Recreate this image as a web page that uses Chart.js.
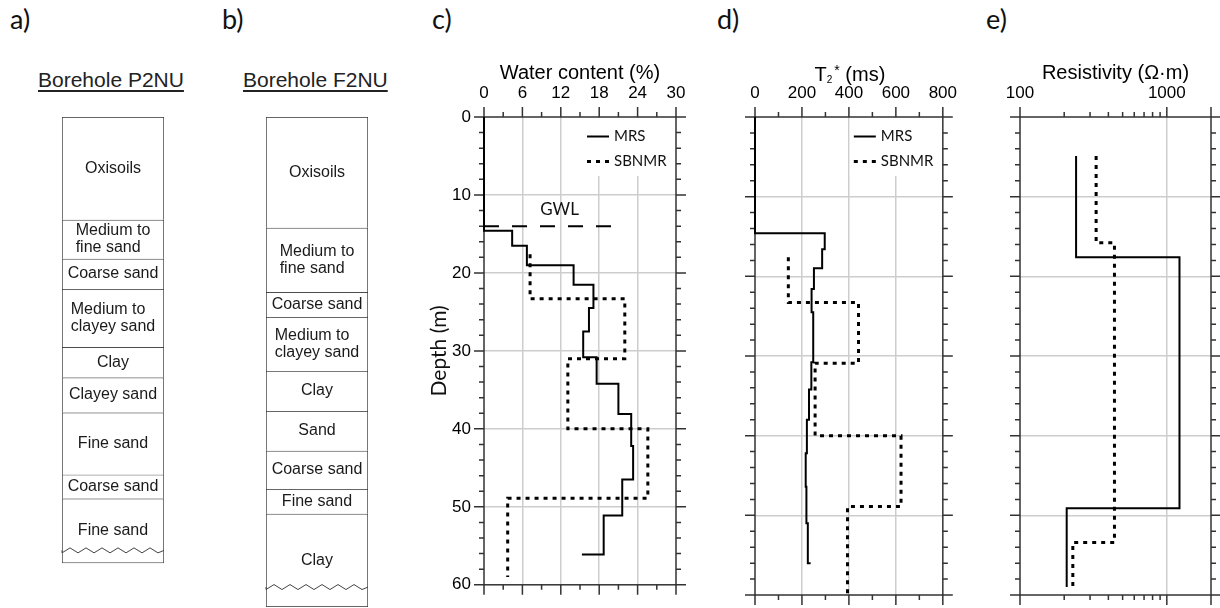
<!DOCTYPE html>
<html>
<head>
<meta charset="utf-8">
<script src="https://cdn.jsdelivr.net/npm/chart.js@4.4.0/dist/chart.umd.min.js"></script>
<style>
  body { margin: 0; background: #fff; width: 1220px; height: 608px; position: relative; overflow: hidden; }
  canvas { position: absolute; top: 0; }
  .tag { position: absolute; top: 5px; font: 27px Lato, sans-serif; line-height: 27px; color: #111; }
  .bh { position: absolute; top: 69px; font: 21px "Liberation Sans", Arial, sans-serif; line-height: 21px;
        text-decoration: underline; text-underline-offset: 3px; color: #222; white-space: nowrap; }
</style>
</head>
<body>
<div class="tag" style="left:10px">a)</div>
<div class="tag" style="left:222px">b)</div>
<div class="tag" style="left:432px">c)</div>
<div class="tag" style="left:717px">d)</div>
<div class="tag" style="left:986px">e)</div>
<div class="bh" style="left:38px">Borehole P2NU</div>
<div class="bh" style="left:243px">Borehole F2NU</div>

<canvas id="holeA" width="215" height="608" style="left:0"></canvas>
<canvas id="holeB" width="205" height="608" style="left:215px"></canvas>
<canvas id="wcChart" width="280" height="608" style="left:420px"></canvas>
<canvas id="t2Chart" width="270" height="608" style="left:700px"></canvas>
<canvas id="resChart" width="250" height="608" style="left:970px"></canvas>

<script>
// a) Borehole P2NU: layer names and layer boundaries (m)
const layersP2NU = ['Oxisoils', 'Medium to\nfine sand', 'Coarse sand', 'Medium to\nclayey sand', 'Clay',
                    'Clayey sand', 'Fine sand', 'Coarse sand', 'Fine sand'];
const depthsP2NU = [0, 12.9, 17.8, 21.6, 28.9, 32.7, 37.1, 44.9, 47.9, 56.0];
const wavyP2NU = 54.4;

// b) Borehole F2NU
const layersF2NU = ['Oxisoils', 'Medium to\nfine sand', 'Coarse sand', 'Medium to\nclayey sand', 'Clay',
                    'Sand', 'Coarse sand', 'Fine sand', 'Clay'];
const depthsF2NU = [0, 13.9, 22.0, 25.1, 31.9, 36.9, 41.9, 46.7, 49.8, 61.5];
const wavyF2NU = 59.0;

// shared depth axis
const depthTicks = [0, 2, 4, 6, 8, 10, 12, 14, 16, 18, 20, 22, 24, 26, 28, 30,
                    32, 34, 36, 38, 40, 42, 44, 46, 48, 50, 52, 54, 56, 58, 60];
const depthMajor = [0, 10, 20, 30, 40, 50, 60];

// c) Water content (%)
const wcTicks = [0, 3, 6, 9, 12, 15, 18, 21, 24, 27, 30];
const wcMajor = [0, 6, 12, 18, 24, 30];
const mrsWcDepth = [0, 14.6, 16.5, 19.0, 21.5, 24.5, 27.5, 30.8, 34.2, 38.1, 42.2, 46.5, 51.1, 56.1];
const mrsWc      = [0, 4.4, 6.7, 14.0, 17.1, 16.4, 15.5, 17.6, 21.0, 23.0, 23.3, 21.6, 18.7, 15.3];
const sbWcDepth  = [17.6, 23.3, 31.0, 40.0, 48.9, 59.0];
const sbWc       = [7.2, 22.0, 13.1, 25.6, 3.7, 3.7];
const gwlDepth = 14.0;
const gwlWc = [0, 20];

// d) T2* (ms)
const t2Ticks = [0, 100, 200, 300, 400, 500, 600, 700, 800];
const t2Major = [0, 200, 400, 600, 800];
const mrsT2Depth = [0, 14.6, 16.6, 19.0, 21.6, 24.5, 30.8, 34.2, 38.0, 42.2, 46.4, 51.0, 56.0];
const mrsT2      = [0, 297, 286, 251, 241, 248, 240, 230, 221, 216, 219, 225, 237];
const sbT2Depth  = [17.6, 23.3, 30.9, 40.0, 48.9, 60.0];
const sbT2       = [142, 441, 256, 622, 394, 394];

// e) Resistivity (ohm m)
const resLabels = [100, 1000];
const resTicks = [100, 200, 300, 400, 500, 600, 700, 800, 900, 1000, 2000];
const resMajor = [100, 1000, 2000];
const mrsResDepth = [4.9, 17.6, 49.1, 59.0];
const mrsRes      = [241, 1220, 208, 208];
const sbResDepth  = [4.9, 15.8, 53.4, 59.0];
const sbRes       = [330, 440, 229, 229];

const ARIAL = '"Liberation Sans", Arial, sans-serif';
const CALIBRI = 'Lato, "Open Sans", sans-serif';
const GRID = '#cdcdcd';
const PX_PER_M = 478 / 60;

Chart.defaults.font.family = ARIAL;
Chart.defaults.color = '#000';

// borehole layer names + zigzag at the bottom
const layerText = {
    id: 'layerText',
    afterDatasetsDraw(chart, args, o) {
        const {ctx, chartArea: a} = chart;
        const y = chart.scales.y;
        ctx.save();
        ctx.fillStyle = '#1a1a1a';
        ctx.font = '16px ' + ARIAL;
        ctx.textBaseline = 'middle';
        const cx = (a.left + a.right) / 2;
        o.names.forEach((name, i) => {
            const lines = name.split('\n');
            const cy = y.getPixelForValue((o.depths[i] + o.depths[i + 1]) / 2);
            const w = Math.max(...lines.map(l => ctx.measureText(l).width));
            lines.forEach((l, k) => {
                ctx.fillText(l, cx - w / 2, cy + (k - (lines.length - 1) / 2) * 17);
            });
        });
        // broken-off bottom of the log
        const wy = y.getPixelForValue(o.wavyDepth);
        ctx.strokeStyle = '#444';
        ctx.lineWidth = 1;
        ctx.beginPath();
        ctx.moveTo(a.left, wy);
        for (let x = a.left, k = 0; x <= a.right; x += 8, k++) {
            ctx.lineTo(x, wy + (k % 2 ? -2.5 : 2.5));
        }
        ctx.lineTo(a.right, wy);
        ctx.stroke();
        ctx.restore();
    }
};

function boreholeChart(id, names, depths, wavyDepth, padLeft, padRight) {
    const maxDepth = depths[depths.length - 1];
    return new Chart(document.getElementById(id), {
        type: 'bar',
        data: {
            labels: [''],
            datasets: names.map((name, i) => ({
                label: name,
                data: [[depths[i], depths[i + 1]]],
                backgroundColor: '#fff',
                borderColor: '#333',
                borderWidth: {top: 1, left: 1, right: 1, bottom: i === names.length - 1 ? 1 : 0},
                borderSkipped: false,
                grouped: false,
                barPercentage: 1,
                categoryPercentage: 1
            }))
        },
        options: {
            responsive: false,
            animation: false,
            devicePixelRatio: 1,
            events: [],
            layout: {
                autoPadding: false,
                padding: {left: padLeft, right: padRight, top: 117, bottom: 608 - 117 - PX_PER_M * maxDepth}
            },
            scales: {
                x: {display: false},
                y: {display: false, reverse: true, min: 0, max: maxDepth}
            },
            plugins: {
                legend: {display: false},
                tooltip: {enabled: false},
                layerText: {names: names, depths: depths, wavyDepth: wavyDepth}
            }
        },
        plugins: [layerText]
    });
}

// box frame with outward ticks on all four sides
const frame = {
    id: 'frame',
    beforeDatasetsDraw(chart, args, o) {
        const {ctx, chartArea: a} = chart;
        const x = chart.scales.x, y = chart.scales.y;
        ctx.save();
        ctx.strokeStyle = '#333';
        ctx.lineWidth = 1.5;
        ctx.beginPath();
        o.xTicks.forEach(v => {
            const p = x.getPixelForValue(v);
            const len = o.xMajor.includes(v) ? 10 : 5;
            ctx.moveTo(p, a.top); ctx.lineTo(p, a.top - len);
            ctx.moveTo(p, a.bottom); ctx.lineTo(p, a.bottom + len);
        });
        depthTicks.forEach(v => {
            const p = y.getPixelForValue(v);
            const len = depthMajor.includes(v) ? 10 : 5;
            ctx.moveTo(a.left, p); ctx.lineTo(a.left - len, p);
            ctx.moveTo(a.right, p); ctx.lineTo(a.right + len, p);
        });
        ctx.stroke();
        ctx.strokeRect(a.left, a.top, a.right - a.left, a.bottom - a.top);
        ctx.restore();
    }
};

// legend in a white box at the top right of the plot
const boxLegend = {
    id: 'boxLegend',
    beforeDatasetsDraw(chart, args, o) {
        if (!o.display) return;
        const {ctx, chartArea: a} = chart;
        ctx.save();
        ctx.fillStyle = '#fff';
        ctx.fillRect(a.right - 93, a.top + 1, 92, 58);
        chart.data.datasets.slice(0, 2).forEach((ds, i) => {
            const ry = a.top + 19.5 + i * 25;
            ctx.strokeStyle = '#000';
            ctx.lineWidth = ds.borderWidth;
            ctx.setLineDash(ds.borderDash || []);
            ctx.beginPath();
            ctx.moveTo(a.right - 89, ry);
            ctx.lineTo(a.right - 67, ry);
            ctx.stroke();
            ctx.setLineDash([]);
            ctx.fillStyle = '#111';
            ctx.font = '15px ' + CALIBRI;
            ctx.textBaseline = 'middle';
            ctx.fillText(ds.label, a.right - 62, ry);
        });
        ctx.restore();
    }
};

// free text placed in data coordinates
const notes = {
    id: 'notes',
    afterDatasetsDraw(chart, args, o) {
        if (!o.items) return;
        const {ctx} = chart;
        ctx.save();
        ctx.fillStyle = '#111';
        ctx.textAlign = 'center';
        ctx.textBaseline = 'middle';
        o.items.forEach(it => {
            ctx.font = it.font;
            ctx.fillText(it.text, chart.scales.x.getPixelForValue(it.x), chart.scales.y.getPixelForValue(it.y));
        });
        ctx.restore();
    }
};

// T2* axis title (subscript + superscript)
const t2Title = {
    id: 't2Title',
    afterDraw(chart, args, o) {
        if (!o.display) return;
        const {ctx, chartArea: a} = chart;
        const base = 81;
        ctx.save();
        ctx.fillStyle = '#000';
        ctx.textBaseline = 'alphabetic';
        ctx.font = '20px ' + ARIAL;
        const wT = ctx.measureText('T').width;
        const wR = ctx.measureText(' (ms)').width;
        ctx.font = '10px ' + ARIAL;
        const w2 = ctx.measureText('2').width;
        ctx.font = '14px ' + ARIAL;
        const wS = ctx.measureText('*').width;
        let x0 = (a.left + a.right) / 2 + 1 - (wT + w2 + 2 + wS + wR) / 2;
        ctx.font = '20px ' + ARIAL;
        ctx.fillText('T', x0, base);
        ctx.font = '10px ' + ARIAL;
        ctx.fillText('2', x0 + wT, base + 2);
        ctx.font = '14px ' + ARIAL;
        ctx.fillText('*', x0 + wT + w2 + 2, base - 6);
        ctx.font = '20px ' + ARIAL;
        ctx.fillText(' (ms)', x0 + wT + w2 + 2 + wS, base);
        ctx.restore();
    }
};

function profilePoints(vals, depths) {
    return vals.map((v, i) => ({x: v, y: depths[i]}));
}

const solidStyle = {borderColor: '#000', borderWidth: 2, pointRadius: 0, showLine: true, stepped: 'after', clip: 4};
const dottedStyle = {borderColor: '#000', borderWidth: 3, borderDash: [4, 5], pointRadius: 0, showLine: true, stepped: 'after', clip: 4};

function profileChart(id, opts) {
    return new Chart(document.getElementById(id), {
        type: 'scatter',
        data: {datasets: opts.datasets},
        options: {
            responsive: false,
            animation: false,
            devicePixelRatio: 1,
            events: [],
            layout: {autoPadding: false, padding: {top: 0, left: 0, right: opts.padRight, bottom: 13}},
            scales: {
                x: Object.assign({
                    position: 'top',
                    grid: {
                        color: c => opts.xGrid.includes(c.tick.value) ? GRID : 'rgba(0,0,0,0)',
                        lineWidth: 1.5,
                        drawTicks: false
                    },
                    border: {display: false},
                    afterFit: s => { s.height = 117; }
                }, opts.x),
                y: {
                    type: 'linear',
                    reverse: true,
                    min: 0,
                    max: 60,
                    ticks: {
                        display: !!opts.yLabels,
                        stepSize: 10,
                        padding: 13,
                        font: {size: 17}
                    },
                    grid: {
                        color: c => (c.tick.value > 0 && c.tick.value < 60) ? GRID : 'rgba(0,0,0,0)',
                        lineWidth: 1.5,
                        drawTicks: false
                    },
                    border: {display: false},
                    title: {
                        display: !!opts.yLabels,
                        text: 'Depth (m)',
                        color: '#111',
                        font: {family: CALIBRI, size: 21},
                        padding: {top: 7, bottom: 0}
                    },
                    afterFit: s => { s.width = opts.yWidth; }
                }
            },
            plugins: {
                legend: {display: false},
                tooltip: {enabled: false},
                frame: {xTicks: opts.xTicks, xMajor: opts.xMajor},
                boxLegend: {display: !!opts.legend},
                notes: {items: opts.notes},
                t2Title: {display: !!opts.t2Title}
            }
        },
        plugins: [frame, boxLegend, notes, t2Title]
    });
}

function xTitle(text) {
    return {display: true, text: text, font: {size: 20}, padding: {top: 61, bottom: 0}};
}

function draw() {
    boreholeChart('holeA', layersP2NU, depthsP2NU, wavyP2NU, 62, 51);
    boreholeChart('holeB', layersF2NU, depthsF2NU, wavyF2NU, 51, 52);

    // c) water content
    profileChart('wcChart', {
        yWidth: 64, padRight: 24, yLabels: true, legend: true,
        xTicks: wcTicks, xMajor: wcMajor, xGrid: [6, 12, 18, 24],
        x: {
            type: 'linear', min: 0, max: 30,
            ticks: {stepSize: 6, padding: 13, font: {size: 17}, maxRotation: 0},
            title: xTitle('Water content (%)')
        },
        datasets: [
            Object.assign({label: 'MRS', data: profilePoints(mrsWc, mrsWcDepth)}, solidStyle),
            Object.assign({label: 'SBNMR', data: profilePoints(sbWc, sbWcDepth)}, dottedStyle),
            {label: 'GWL', data: gwlWc.map(v => ({x: v, y: gwlDepth})), borderColor: '#000',
             borderWidth: 2, borderDash: [15, 13], pointRadius: 0, showLine: true}
        ],
        notes: [{text: 'GWL', x: 11.8, y: 11.9, font: '17px ' + CALIBRI}]
    });

    // d) T2*
    profileChart('t2Chart', {
        yWidth: 55, padRight: 24, legend: true, t2Title: true,
        xTicks: t2Ticks, xMajor: t2Major, xGrid: [200, 400, 600],
        x: {
            type: 'linear', min: 0, max: 800,
            ticks: {stepSize: 200, padding: 13, font: {size: 17}, maxRotation: 0}
        },
        datasets: [
            Object.assign({label: 'MRS', data: profilePoints(mrsT2, mrsT2Depth)}, solidStyle),
            Object.assign({label: 'SBNMR', data: profilePoints(sbT2, sbT2Depth)}, dottedStyle)
        ]
    });

    // e) resistivity, log axis
    profileChart('resChart', {
        yWidth: 50, padRight: 9,
        xTicks: resTicks, xMajor: resMajor, xGrid: [1000],
        x: {
            type: 'logarithmic', min: 100, max: 2000,
            afterBuildTicks: s => { s.ticks = resLabels.map(v => ({value: v})); },
            ticks: {padding: 13, font: {size: 17}, maxRotation: 0, callback: v => String(v)},
            title: xTitle('Resistivity (\u03A9\u00B7m)')
        },
        datasets: [
            Object.assign({label: 'MRS', data: profilePoints(mrsRes, mrsResDepth)}, solidStyle),
            Object.assign({label: 'SBNMR', data: profilePoints(sbRes, sbResDepth)}, dottedStyle)
        ]
    });
}

Promise.all([
    document.fonts.load('16px "Liberation Sans"'),
    document.fonts.load('16px Lato')
]).then(draw, draw);
</script>
</body>
</html>
